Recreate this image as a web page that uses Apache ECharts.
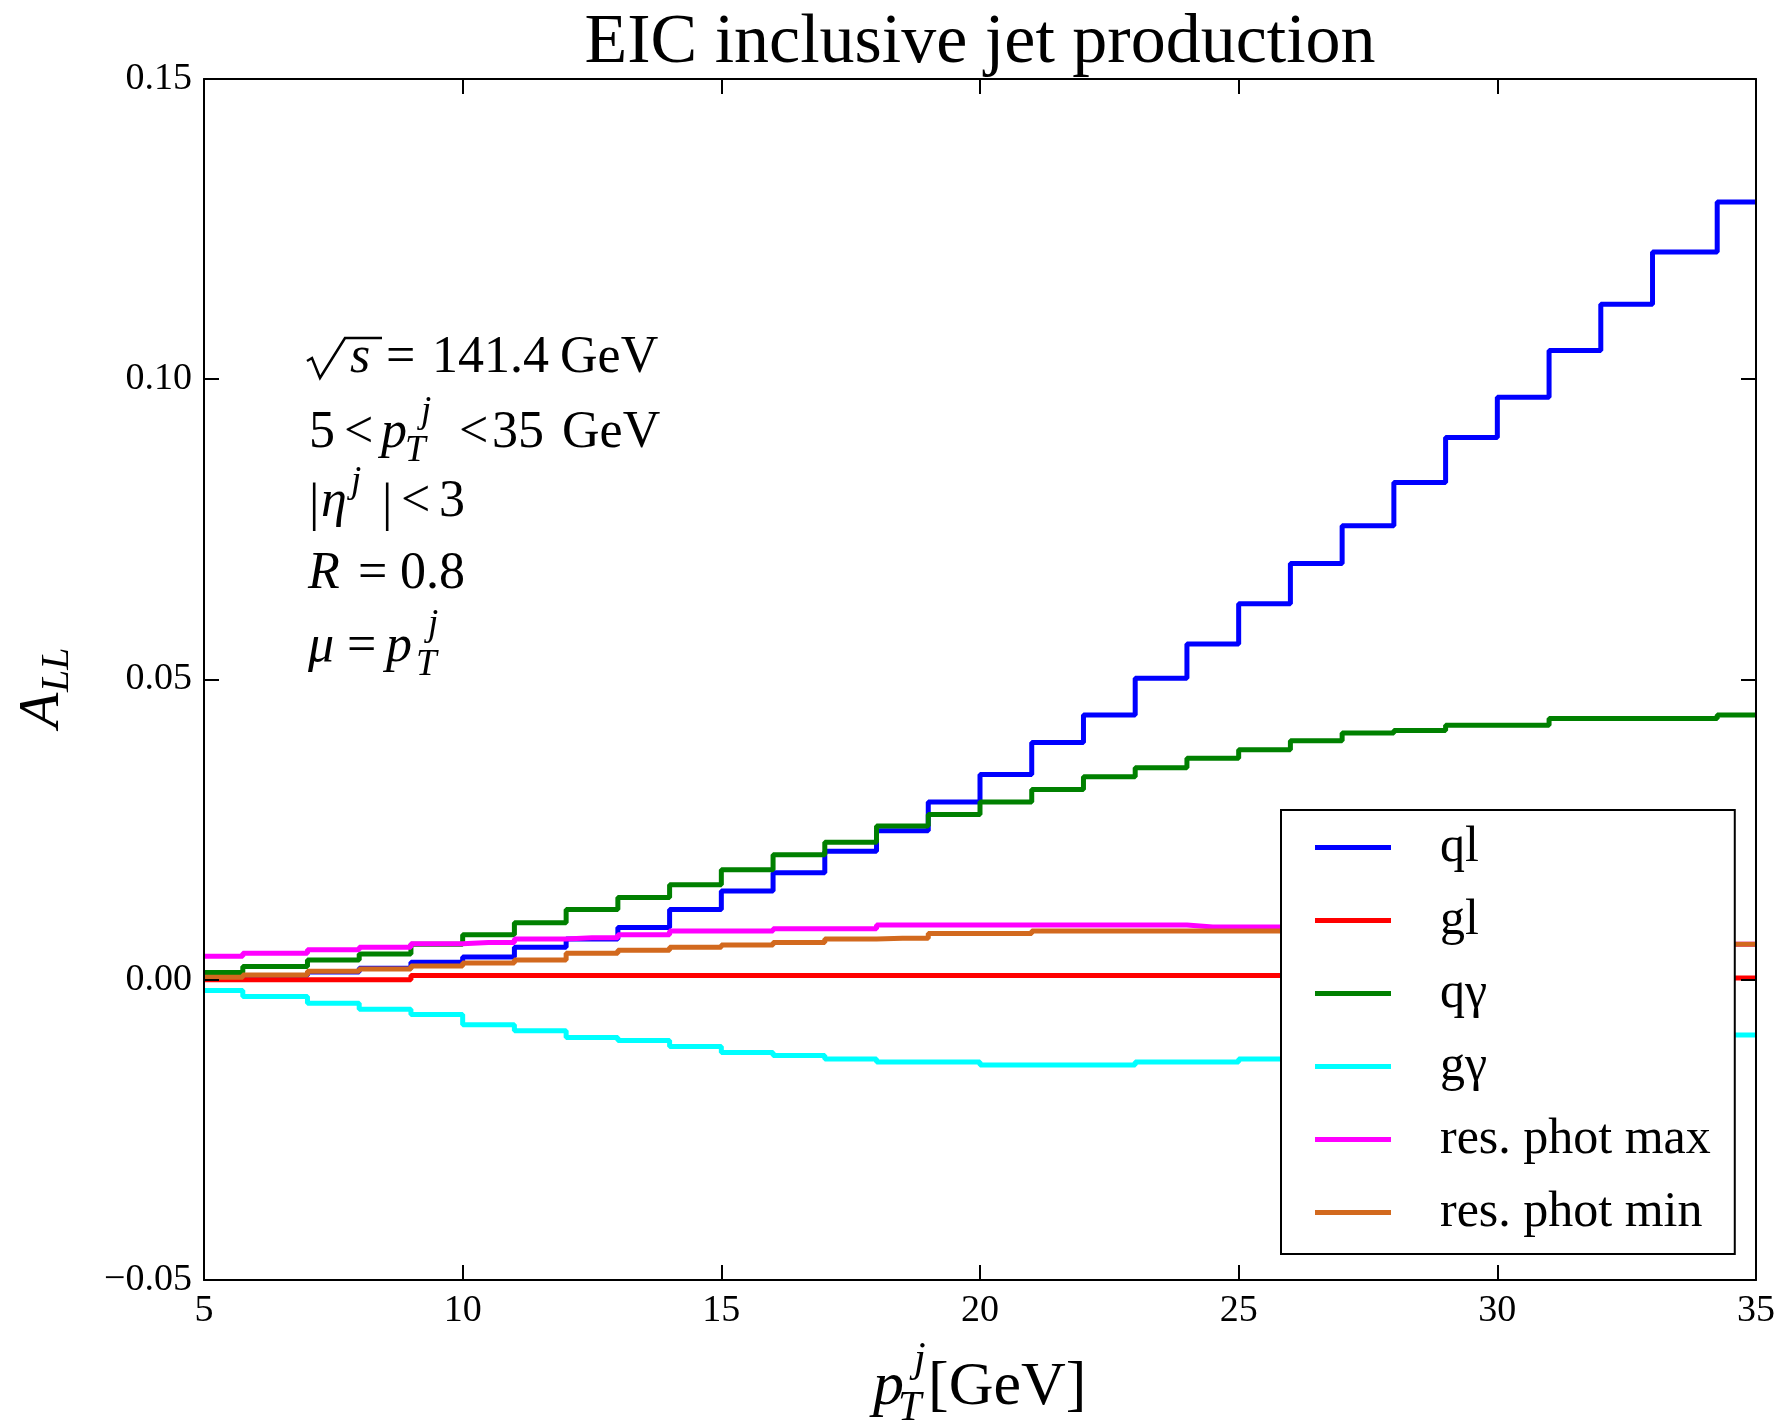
<!DOCTYPE html>
<html>
<head>
<meta charset="utf-8">
<script src="https://cdn.jsdelivr.net/npm/echarts@6/dist/echarts.min.js"></script>
<style>
  html, body { margin: 0; padding: 0; background: #fff; }
  #chart { width: 1778px; height: 1423px; }
</style>
</head>
<body>
<div id="chart"></div>
<script>
// Step positions in p_T^j (GeV); steps are drawn half-way between neighbours
const ptPoints = [5, 6.5, 7.5, 8.5, 9.5, 10.5, 11.5, 12.5, 13.5, 14.5, 15.5, 16.5, 17.5, 18.5, 19.5,
                  20.5, 21.5, 22.5, 23.5, 24.5, 25.5, 26.5, 27.5, 28.5, 29.5, 30.5, 31.5, 32.5, 33.5, 35];

// A_LL per channel
const allQl = [0.0004, 0.0007, 0.0013, 0.0019, 0.0029, 0.0038, 0.0054, 0.0068, 0.0087, 0.0117,
               0.0148, 0.0178, 0.0214, 0.0248, 0.0296, 0.0342, 0.0395, 0.0441, 0.0502, 0.0559,
               0.0626, 0.0693, 0.0756, 0.0828, 0.0903, 0.0970, 0.1048, 0.1125, 0.1212, 0.1295];
const allGl = [0.0000, 0.0000, 0.0000, 0.0000, 0.0007, 0.0007, 0.0007, 0.0007, 0.0007, 0.0007,
               0.0007, 0.0007, 0.0007, 0.0007, 0.0007, 0.0007, 0.0007, 0.0007, 0.0007, 0.0007,
               0.0007, 0.0007, 0.0007, 0.0007, 0.0007, 0.0007, 0.0007, 0.0007, 0.0007, 0.0003];
const allQgamma = [0.0012, 0.0022, 0.0033, 0.0043, 0.0059, 0.0075, 0.0095, 0.0117, 0.0137, 0.0158,
                   0.0183, 0.0208, 0.0229, 0.0256, 0.0275, 0.0296, 0.0317, 0.0338, 0.0353, 0.0369,
                   0.0383, 0.0398, 0.0411, 0.0415, 0.0424, 0.0424, 0.0435, 0.0435, 0.0435, 0.0441];
const allGgamma = [-0.0018, -0.0028, -0.0039, -0.0049, -0.0058, -0.0075, -0.0085, -0.0096, -0.0101, -0.0111,
                   -0.0121, -0.0126, -0.0132, -0.0137, -0.0137, -0.0142, -0.0142, -0.0142, -0.0137, -0.0137,
                   -0.0132, -0.0128, -0.0124, -0.0119, -0.0115, -0.0110, -0.0106, -0.0101, -0.0097, -0.0092];
const allResMax = [0.0039, 0.0044, 0.0050, 0.0054, 0.0060, 0.0062, 0.0068, 0.0070, 0.0075, 0.0081,
                   0.0081, 0.0085, 0.0085, 0.0091, 0.0091, 0.0091, 0.0091, 0.0091, 0.0091, 0.0088,
                   0.0088, 0.0085, 0.0082, 0.0079, 0.0076, 0.0073, 0.0070, 0.0067, 0.0064, 0.0059];
const allResMin = [0.0004, 0.0008, 0.0014, 0.0018, 0.0023, 0.0028, 0.0033, 0.0044, 0.0049, 0.0054,
                   0.0058, 0.0062, 0.0068, 0.0069, 0.0077, 0.0077, 0.0081, 0.0081, 0.0081, 0.0081,
                   0.0081, 0.0080, 0.0078, 0.0076, 0.0074, 0.0071, 0.0069, 0.0066, 0.0063, 0.0059];

const channelNames = ['ql', 'gl', 'q\u03b3', 'g\u03b3', 'res. phot max', 'res. phot min'];
const channelValues = [allQl, allGl, allQgamma, allGgamma, allResMax, allResMin];
const channelColors = ['#0000ff', '#ff0000', '#008000', '#00ffff', '#ff00ff', '#d2691e'];

const xTicks = { min: 5, max: 35, step: 5 };
const yTicks = { min: -0.05, max: 0.15, step: 0.05 };

const SERIF = '"Liberation Serif", "DejaVu Serif", serif';

// one run of text placed on an alphabetic baseline
function glyph(t, x, base, size, italic, align) {
  return {
    type: 'text', silent: true,
    x: x, y: base - 0.3375 * size,
    style: {
      text: t, fill: '#000',
      font: (italic ? 'italic ' : '') + size + 'px ' + SERIF,
      align: align || 'left', verticalAlign: 'middle'
    }
  };
}

// annotation block: run conditions
const S = 52, SS = 37;
const notes = [
  // sqrt(s) = 141.4 GeV
  { type: 'polyline', silent: true,
    shape: { points: [[307, 361], [312, 358], [320, 378], [345, 338], [382, 338]] },
    style: { stroke: '#000', lineWidth: 2.5, fill: null } },
  glyph('s', 350, 376, S, true),
  glyph('=', 386, 376, S, false),
  glyph('141.4', 432, 376, S, false),
  glyph('GeV', 560, 376, S, false),
  // 5 < p_T^j < 35 GeV
  glyph('5', 309, 451, S, false),
  glyph('<', 344, 451, S, false),
  glyph('p', 381, 451, S, true),
  glyph('j', 421, 425, SS, true),
  glyph('T', 405, 464, SS, true),
  glyph('<', 459, 451, S, false),
  glyph('35', 492, 451, S, false),
  glyph('GeV', 562, 451, S, false),
  // |eta^j| < 3
  glyph('|', 309, 524, S, false),
  glyph('\u03b7', 321, 520, S, true),
  glyph('j', 351, 495, SS, true),
  glyph('|', 382, 524, S, false),
  glyph('<', 401, 520, S, false),
  glyph('3', 439, 520, S, false),
  // R = 0.8
  glyph('R', 308, 592, S, true),
  glyph('=', 358, 592, S, false),
  glyph('0.8', 400, 592, S, false),
  // mu = p_T^j
  glyph('\u03bc', 308, 665, S, true),
  glyph('=', 347, 665, S, false),
  glyph('p', 386, 665, S, true),
  glyph('j', 428, 638, SS, true),
  glyph('T', 416, 678, SS, true)
];

// axis titles
const xName = [
  glyph('p', 873, 1409, 62, true),
  glyph('j', 914, 1374, 42, true),
  glyph('T', 898, 1423, 42, true),
  glyph('[GeV]', 928, 1409, 62, false)
];
const yName = {
  type: 'group', x: 62, y: 728, rotation: Math.PI / 2, silent: true,
  children: [
    glyph('A', 0, 0, 58, true),
    glyph('LL', 36, 9, 40, true)
  ]
};
const titleText = glyph('EIC inclusive jet production', 980, 67, 70, false, 'center');

const axisBase = {
  type: 'value',
  z: 5,
  splitLine: { show: false },
  axisLine: { show: true, onZero: false, lineStyle: { color: '#000', width: 2 } },
  axisTick: { show: true, inside: true, length: 15, lineStyle: { color: '#000', width: 2 } }
};

const chart = echarts.init(document.getElementById('chart'), null, { renderer: 'canvas' });
chart.setOption({
  animation: false,
  backgroundColor: '#fff',
  grid: { left: 204, right: 20, top: 79, bottom: 143, containLabel: false },
  xAxis: [
    Object.assign({}, axisBase, {
      position: 'bottom', min: xTicks.min, max: xTicks.max, interval: xTicks.step,
      axisLabel: { color: '#000', fontFamily: SERIF, fontSize: 38, margin: 12 }
    }),
    Object.assign({}, axisBase, {
      position: 'top', min: xTicks.min, max: xTicks.max, interval: xTicks.step,
      axisLabel: { show: false }
    })
  ],
  yAxis: [
    Object.assign({}, axisBase, {
      position: 'left', min: yTicks.min, max: yTicks.max, interval: yTicks.step,
      axisLabel: {
        color: '#000', fontFamily: SERIF, fontSize: 38, margin: 12,
        formatter: v => (v < -1e-9 ? '\u2212' : '') + Math.abs(v).toFixed(2)
      }
    }),
    Object.assign({}, axisBase, {
      position: 'right', min: yTicks.min, max: yTicks.max, interval: yTicks.step,
      axisLabel: { show: false }
    })
  ],
  legend: {
    orient: 'vertical',
    left: 1281, top: 810,
    padding: [12, 24, 16, 34],
    itemWidth: 76, itemHeight: 5, itemGap: 22,
    icon: 'rect',
    borderColor: '#000', borderWidth: 2, borderRadius: 0,
    backgroundColor: '#fff',
    data: channelNames,
    textStyle: { color: '#000', fontFamily: SERIF, fontSize: 50, lineHeight: 51, padding: [0, 0, 0, 44] }
  },
  graphic: [titleText, yName].concat(xName, notes),
  series: channelNames.map((name, k) => ({
    name: name,
    type: 'line',
    step: 'middle',
    showSymbol: false,
    color: channelColors[k],
    lineStyle: { color: channelColors[k], width: 5 },
    data: ptPoints.map((x, i) => [x, channelValues[k][i]])
  }))
});
</script>
</body>
</html>
